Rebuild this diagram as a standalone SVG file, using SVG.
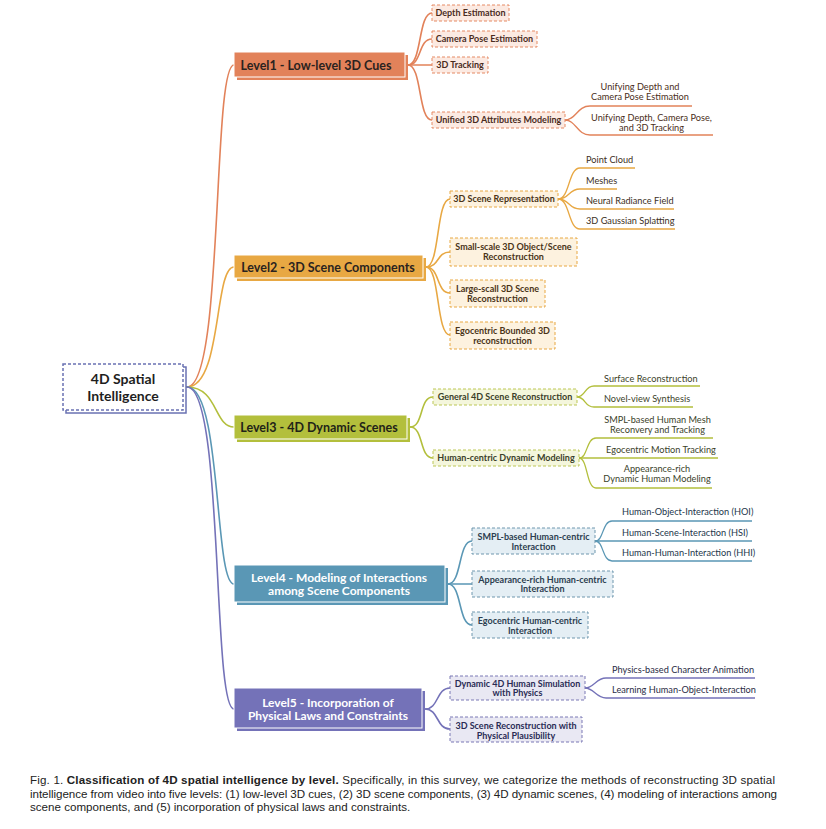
<svg xmlns="http://www.w3.org/2000/svg" width="826" height="829" viewBox="0 0 826 829">
<style>
text{font-family:Lato,"Noto Sans","DejaVu Sans",sans-serif}
.lv{font-weight:700;font-size:12.5px;text-anchor:middle}
.lv2{font-weight:700;font-size:12px;text-anchor:middle}
.ch{font-weight:700;font-size:9px;text-anchor:middle}
.lf{font-weight:400;font-size:9.2px}
.mid{text-anchor:middle}
.root{font-weight:700;font-size:14px;text-anchor:middle;fill:#1e1e1e}
.cap{font-family:"Liberation Sans",Arial,sans-serif;font-size:11.6px;fill:#222}
.cb{stroke-dasharray:3 2;stroke-width:1}
.con{fill:none;stroke-width:1.6;stroke-linecap:round}
.ul{fill:none;stroke-width:1.3}
.c1{stroke:#E2825A}.c2{stroke:#E8A843}.c3{stroke:#B3BF3C}.c4{stroke:#5A97B5}.c5{stroke:#7472B8}
</style>

<g id="connectors">
  <path class="con c1" d="M187,387 C224,387 212,65 234,65"/>
  <path class="con c2" d="M187,387 C222,387 214,267 234,267"/>
  <path class="con c3" d="M187,387 C218,387 214,427 234,427"/>
  <path class="con c4" d="M187,387 C222,387 214,584 234,584"/>
  <path class="con c5" d="M187,387 C224,387 212,709 234,709"/>

  <path class="con c1" d="M408,65 C422,65 418,13 432,13"/>
  <path class="con c1" d="M408,65 C422,65 418,39 432,39"/>
  <path class="con c1" d="M408,65 H432"/>
  <path class="con c1" d="M408,65 C422,65 418,120 432,120"/>
  <path class="ul c1" d="M565,120 C576,120 577,106 590,106 H692"/>
  <path class="ul c1" d="M565,120 C576,120 577,135 590,135 H713"/>

  <path class="con c2" d="M426,267 C440,267 436,199 450,199"/>
  <path class="con c2" d="M426,267 C440,267 436,252 450,252"/>
  <path class="con c2" d="M426,267 C440,267 436,293 450,293"/>
  <path class="con c2" d="M426,267 C440,267 436,335 450,335"/>
  <path class="ul c2" d="M558,199 C570,199 568,168 580,168 H635"/>
  <path class="ul c2" d="M558,199 C570,199 568,189 580,189 H617"/>
  <path class="ul c2" d="M558,199 C570,199 568,209 580,209 H674"/>
  <path class="ul c2" d="M558,199 C570,199 568,229 580,229 H675"/>

  <path class="con c3" d="M410,427 C424,427 419,397 433,397"/>
  <path class="con c3" d="M410,427 C424,427 419,458 433,458"/>
  <path class="ul c3" d="M577,397 C586,397 584,386 594,386 H700"/>
  <path class="ul c3" d="M577,397 C586,397 584,407 594,407 H693"/>
  <path class="ul c3" d="M579,458 C588,458 586,438 596,438 H713"/>
  <path class="ul c3" d="M579,458 H718"/>
  <path class="ul c3" d="M579,458 C588,458 586,488 596,488 H712"/>

  <path class="con c4" d="M448,584 C462,584 458,541 472,541"/>
  <path class="con c4" d="M448,584 H472"/>
  <path class="con c4" d="M448,584 C462,584 458,625 472,625"/>
  <path class="ul c4" d="M595,541 C604,541 602,521 612,521 H752"/>
  <path class="ul c4" d="M595,541 H752"/>
  <path class="ul c4" d="M595,541 C604,541 602,561 612,561 H752"/>

  <path class="con c5" d="M425,709 C439,709 436,688 450,688"/>
  <path class="con c5" d="M425,709 C439,709 436,729 450,729"/>
  <path class="ul c5" d="M585,688 C594,688 596,678 606,678 H755"/>
  <path class="ul c5" d="M585,688 C594,688 596,698 606,698 H755"/>
</g>

<g id="root">
  <rect x="66" y="367" width="120" height="46" fill="#fff" stroke="#6A72B2" stroke-width="1.5"/>
  <rect x="63" y="364" width="120" height="46" fill="#fff" stroke="#6A72B2" stroke-width="1.5" stroke-dasharray="3 2"/>
  <text class="root" x="123" y="384">4D Spatial</text>
  <text class="root" x="123" y="400.5">Intelligence</text>
</g>

<g id="level1">
  <rect x="237" y="55" width="171" height="25" fill="#E2825A"/>
  <rect x="234" y="52" width="171" height="25" fill="#E2825A" stroke="#fff" stroke-width="1"/>
  <text class="lv" x="316" y="69.5" fill="#2a2320">Level1 - Low-level 3D Cues</text>
</g>
<g id="l1-depth">
  <rect class="cb" x="432" y="5" width="77" height="16" fill="#FCEAE2" stroke="#E58A64"/>
  <text class="ch" x="470.5" y="16" fill="#4a2c1e">Depth Estimation</text>
</g>
<g id="l1-camera">
  <rect class="cb" x="432" y="31" width="105" height="16" fill="#FCEAE2" stroke="#E58A64"/>
  <text class="ch" x="484.5" y="42" fill="#4a2c1e">Camera Pose Estimation</text>
</g>
<g id="l1-tracking">
  <rect class="cb" x="432" y="57" width="56" height="16" fill="#FCEAE2" stroke="#E58A64"/>
  <text class="ch" x="460" y="68" fill="#4a2c1e">3D Tracking</text>
</g>
<g id="l1-unified">
  <rect class="cb" x="432" y="112" width="133" height="16" fill="#FCEAE2" stroke="#E58A64"/>
  <text class="ch" x="498.5" y="123" fill="#4a2c1e">Unified 3D Attributes Modeling</text>
</g>
<g id="l1-leaf1">
  <text class="lf mid" x="640" y="90" fill="#4a2e20">Unifying Depth and</text>
  <text class="lf mid" x="640" y="100" fill="#4a2e20">Camera Pose Estimation</text>
</g>
<g id="l1-leaf2">
  <text class="lf mid" x="651.5" y="121" fill="#4a2e20">Unifying Depth, Camera Pose,</text>
  <text class="lf mid" x="651.5" y="130.5" fill="#4a2e20">and 3D Tracking</text>
</g>

<g id="level2">
  <rect x="237" y="258" width="189" height="23" fill="#E8A843"/>
  <rect x="234" y="255" width="189" height="23" fill="#E8A843" stroke="#fff" stroke-width="1"/>
  <text class="lv" x="328" y="271.5" fill="#2a2320">Level2 - 3D Scene Components</text>
</g>
<g id="l2-rep">
  <rect class="cb" x="450" y="191" width="108" height="16" fill="#FDF2DF" stroke="#E8A843"/>
  <text class="ch" x="504" y="202" fill="#4a3418">3D Scene Representation</text>
</g>
<g id="l2-small">
  <rect class="cb" x="450" y="238" width="127" height="28" fill="#FDF2DF" stroke="#E8A843"/>
  <text class="ch" x="513.5" y="250" fill="#4a3418">Small-scale 3D Object/Scene</text>
  <text class="ch" x="513.5" y="260" fill="#4a3418">Reconstruction</text>
</g>
<g id="l2-large">
  <rect class="cb" x="450" y="280" width="95" height="27" fill="#FDF2DF" stroke="#E8A843"/>
  <text class="ch" x="497.5" y="292" fill="#4a3418">Large-scall 3D Scene</text>
  <text class="ch" x="497.5" y="301.5" fill="#4a3418">Reconstruction</text>
</g>
<g id="l2-ego">
  <rect class="cb" x="450" y="322" width="105" height="27" fill="#FDF2DF" stroke="#E8A843"/>
  <text class="ch" x="502.5" y="334" fill="#4a3418">Egocentric Bounded 3D</text>
  <text class="ch" x="502.5" y="343.5" fill="#4a3418">reconstruction</text>
</g>
<g id="l2-leaves">
  <text class="lf" x="586" y="163" fill="#3d2f1c">Point Cloud</text>
  <text class="lf" x="586" y="184" fill="#3d2f1c">Meshes</text>
  <text class="lf" x="586" y="204" fill="#3d2f1c">Neural Radiance Field</text>
  <text class="lf" x="586" y="224" fill="#3d2f1c">3D Gaussian Splatting</text>
</g>

<g id="level3">
  <rect x="237" y="418" width="173" height="24" fill="#B3BF3C"/>
  <rect x="234" y="415" width="173" height="24" fill="#B3BF3C" stroke="#fff" stroke-width="1"/>
  <text class="lv" x="319" y="432" fill="#1f2318">Level3 - 4D Dynamic Scenes</text>
</g>
<g id="l3-general">
  <rect class="cb" x="433" y="389" width="144" height="16" fill="#F4F6DC" stroke="#BCC756"/>
  <text class="ch" x="505" y="400" fill="#3b3f2a">General 4D Scene Reconstruction</text>
</g>
<g id="l3-human">
  <rect class="cb" x="433" y="450" width="146" height="16" fill="#F4F6DC" stroke="#BCC756"/>
  <text class="ch" x="506" y="461" fill="#3b3f2a">Human-centric Dynamic Modeling</text>
</g>
<g id="l3-leaves">
  <text class="lf" x="604" y="382" fill="#3b3f2a">Surface Reconstruction</text>
  <text class="lf" x="604" y="402" fill="#3b3f2a">Novel-view Synthesis</text>
  <text class="lf mid" x="657.5" y="423" fill="#3b3f2a">SMPL-based Human Mesh</text>
  <text class="lf mid" x="657.5" y="433" fill="#3b3f2a">Reconvery and Tracking</text>
  <text class="lf" x="606" y="453" fill="#3b3f2a">Egocentric Motion Tracking</text>
  <text class="lf mid" x="657" y="472" fill="#3b3f2a">Appearance-rich</text>
  <text class="lf mid" x="657" y="482" fill="#3b3f2a">Dynamic Human Modeling</text>
</g>

<g id="level4">
  <rect x="237" y="568" width="211" height="37" fill="#5A97B5"/>
  <rect x="234" y="565" width="211" height="37" fill="#5A97B5" stroke="#fff" stroke-width="1"/>
  <text class="lv2" x="339" y="581.5" fill="#fff">Level4 - Modeling of Interactions</text>
  <text class="lv2" x="339" y="595" fill="#fff">among Scene Components</text>
</g>
<g id="l4-smpl">
  <rect class="cb" x="472" y="528" width="123" height="26" fill="#E4EEF4" stroke="#6F97AE"/>
  <text class="ch" x="533.5" y="540" fill="#2c3e50">SMPL-based Human-centric</text>
  <text class="ch" x="533.5" y="549.5" fill="#2c3e50">Interaction</text>
</g>
<g id="l4-appearance">
  <rect class="cb" x="472" y="571" width="141" height="26" fill="#E4EEF4" stroke="#6F97AE"/>
  <text class="ch" x="542.5" y="582.5" fill="#2c3e50">Appearance-rich Human-centric</text>
  <text class="ch" x="542.5" y="592" fill="#2c3e50">Interaction</text>
</g>
<g id="l4-ego">
  <rect class="cb" x="472" y="612" width="116" height="26" fill="#E4EEF4" stroke="#6F97AE"/>
  <text class="ch" x="530" y="624" fill="#2c3e50">Egocentric Human-centric</text>
  <text class="ch" x="530" y="634" fill="#2c3e50">Interaction</text>
</g>
<g id="l4-leaves">
  <text class="lf" x="622" y="515" fill="#24364a">Human-Object-Interaction (HOI)</text>
  <text class="lf" x="622" y="536" fill="#24364a">Human-Scene-Interaction (HSI)</text>
  <text class="lf" x="622" y="556" fill="#24364a">Human-Human-Interaction (HHI)</text>
</g>

<g id="level5">
  <rect x="237" y="691" width="188" height="40" fill="#7472B8"/>
  <rect x="234" y="688" width="188" height="40" fill="#7472B8" stroke="#fff" stroke-width="1"/>
  <text class="lv2" x="328" y="706.5" fill="#fff">Level5 - Incorporation of</text>
  <text class="lv2" x="328" y="720" fill="#fff">Physical Laws and Constraints</text>
</g>
<g id="l5-dynamic">
  <rect class="cb" x="450" y="676" width="135" height="24" fill="#E9E8F3" stroke="#7A78B5"/>
  <text class="ch" x="517.5" y="686.5" fill="#2a2c55">Dynamic 4D Human Simulation</text>
  <text class="ch" x="517.5" y="696" fill="#2a2c55">with Physics</text>
</g>
<g id="l5-scene">
  <rect class="cb" x="450" y="717" width="132" height="25" fill="#E9E8F3" stroke="#7A78B5"/>
  <text class="ch" x="516" y="729" fill="#2a2c55">3D Scene Reconstruction with</text>
  <text class="ch" x="516" y="738.5" fill="#2a2c55">Physical Plausibility</text>
</g>
<g id="l5-leaves">
  <text class="lf" x="612" y="673" fill="#2a2c45">Physics-based Character Animation</text>
  <text class="lf" x="612" y="693" fill="#2a2c45">Learning Human-Object-Interaction</text>
</g>

<g id="caption">
  <text class="cap" x="30" y="784" textLength="745" lengthAdjust="spacing">Fig. 1. <tspan font-weight="700">Classification of 4D spatial intelligence by level.</tspan> Specifically, in this survey, we categorize the methods of reconstructing 3D spatial</text>
  <text class="cap" x="30" y="797.5" textLength="747" lengthAdjust="spacing">intelligence from video into five levels: (1) low-level 3D cues, (2) 3D scene components, (3) 4D dynamic scenes, (4) modeling of interactions among</text>
  <text class="cap" x="30" y="811">scene components, and (5) incorporation of physical laws and constraints.</text>
</g>
</svg>
